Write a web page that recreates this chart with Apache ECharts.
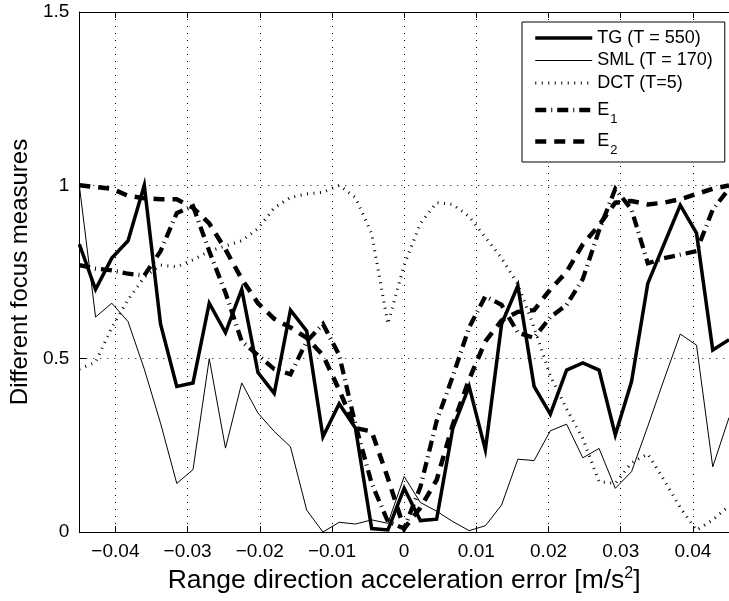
<!DOCTYPE html>
<html><head><meta charset="utf-8">
<script src="https://cdn.jsdelivr.net/npm/echarts@6/dist/echarts.min.js"></script>
<style>html,body{margin:0;padding:0;background:#fff}#c{width:729px;height:601px}</style>
</head><body><div id="c"></div><script>
// sample positions (acceleration error, m/s^2)
const xValues = [-0.045, -0.04275, -0.0405, -0.03825, -0.036, -0.03375, -0.0315, -0.02925, -0.027, -0.02475,
  -0.0225, -0.02025, -0.018, -0.01575, -0.0135, -0.01125, -0.009, -0.00675, -0.0045, -0.00225,
  0, 0.00225, 0.0045, 0.00675, 0.009, 0.01125, 0.0135, 0.01575, 0.018, 0.02025,
  0.0225, 0.02475, 0.027, 0.02925, 0.0315, 0.03375, 0.036, 0.03825, 0.0405, 0.04275, 0.045];
const tgValues = [0.83, 0.70, 0.79, 0.84, 1.00, 0.60, 0.42, 0.43, 0.66, 0.575,
  0.70, 0.46, 0.40, 0.64, 0.58, 0.275, 0.37, 0.30, 0.01, 0.006,
  0.126, 0.033, 0.037, 0.30, 0.42, 0.237, 0.60, 0.71, 0.42, 0.34,
  0.467, 0.488, 0.467, 0.28, 0.434, 0.717, 0.83, 0.943, 0.862, 0.525, 0.555];
const smlValues = [1.00, 0.62, 0.66, 0.607, 0.47, 0.314, 0.14, 0.18, 0.50, 0.242,
  0.43, 0.343, 0.29, 0.246, 0.063, 0.0, 0.028, 0.023, 0.035, 0.025,
  0.16, 0.085, 0.06, 0.03, 0.004, 0.018, 0.078, 0.21, 0.206, 0.292,
  0.311, 0.214, 0.241, 0.126, 0.174, 0.305, 0.44, 0.571, 0.539, 0.188, 0.33];
const dctValues = [0.47, 0.49, 0.59, 0.67, 0.735, 0.77, 0.765, 0.785, 0.81, 0.825,
  0.84, 0.875, 0.935, 0.965, 0.975, 0.98, 1.0, 0.965, 0.86, 0.60,
  0.77, 0.89, 0.95, 0.945, 0.91, 0.85, 0.79, 0.715, 0.59, 0.45,
  0.355, 0.27, 0.145, 0.14, 0.20, 0.225, 0.15, 0.07, 0.005, 0.035, 0.075];
const e1Values = [0.77, 0.76, 0.755, 0.745, 0.74, 0.81, 0.92, 0.94, 0.81, 0.69,
  0.55, 0.51, 0.47, 0.455, 0.55, 0.60, 0.51, 0.31, 0.14, 0.03,
  0.01, 0.13, 0.32, 0.45, 0.59, 0.68, 0.655, 0.575, 0.56, 0.62,
  0.655, 0.73, 0.87, 0.99, 0.93, 0.775, 0.79, 0.80, 0.81, 0.93, 0.99];
const e2Values = [1.0, 0.995, 0.99, 0.97, 0.963, 0.96, 0.96, 0.935, 0.89, 0.815,
  0.73, 0.66, 0.615, 0.59, 0.56, 0.51, 0.41, 0.30, 0.29, 0.155,
  0.01, 0.07, 0.15, 0.31, 0.44, 0.55, 0.61, 0.635, 0.64, 0.70,
  0.75, 0.83, 0.885, 0.95, 0.955, 0.945, 0.95, 0.96, 0.975, 0.99, 1.0];
const xTicks = [-0.04, -0.03, -0.02, -0.01, 0, 0.01, 0.02, 0.03, 0.04];
const seriesNames = ['TG (T = 550)', 'SML (T = 170)', 'DCT (T=5)', 'E1', 'E2'];

const FONT = '"Liberation Sans", Arial, Helvetica, sans-serif';
const pairs = vals => xValues.map((x, i) => [x, vals[i]]);
const fmtX = v => {
  if (Math.abs(v) < 1e-9) return '0';
  return (v < 0 ? '\u2212' : '') + Math.abs(v).toFixed(2);
};
const gridDash = {color: '#000', width: 1, type: [1, 6]};
const blackItem = {color: '#000'};

const chart = echarts.init(document.getElementById('c'), null, {renderer: 'canvas'});
chart.setOption({
  animation: false,
  backgroundColor: '#fff',
  grid: {left: 74, top: 12, right: -5, bottom: 69, containLabel: false},
  xAxis: [{
    type: 'value', min: -0.045, max: 0.045, position: 'bottom',
    name: 'Range direction acceleration error [m/s{sup|2}]',
    nameLocation: 'middle', nameGap: 30,
    nameTextStyle: {fontFamily: FONT, fontSize: 26.5, color: '#000', lineHeight: 30,
      rich: {sup: {fontFamily: FONT, fontSize: 16, lineHeight: 16, verticalAlign: 'top', color: '#000'}}},
    axisLine: {show: true, onZero: false, lineStyle: {color: '#000', width: 1}},
    axisTick: {show: true, inside: true, length: 6, customValues: xTicks, lineStyle: {color: '#000'}},
    axisLabel: {show: true, customValues: xTicks, formatter: fmtX, margin: 10,
      fontFamily: FONT, fontSize: 19, color: '#000'},
    splitLine: {show: true, lineStyle: gridDash}
  }, {
    type: 'value', min: -0.045, max: 0.045, position: 'top',
    axisLine: {show: true, onZero: false, lineStyle: {color: '#000', width: 1}},
    axisTick: {show: true, inside: true, length: 6, customValues: xTicks, lineStyle: {color: '#000'}},
    axisLabel: {show: false}, splitLine: {show: false}
  }],
  yAxis: [{
    type: 'value', min: 0, max: 1.5, interval: 0.5,
    name: 'Different focus measures', nameLocation: 'middle', nameGap: 43,
    nameTextStyle: {fontFamily: FONT, fontSize: 24, color: '#000'},
    axisLine: {show: true, onZero: false, lineStyle: {color: '#000', width: 1}},
    axisTick: {show: true, inside: true, length: 7, lineStyle: {color: '#000'}},
    axisLabel: {show: true, margin: 10, fontFamily: FONT, fontSize: 19, color: '#000',
      formatter: v => String(+v.toFixed(2))},
    splitLine: {show: true, lineStyle: gridDash}
  }],
  legend: {
    show: true, orient: 'vertical', left: 522, top: 22,
    data: seriesNames,
    backgroundColor: '#fff', borderColor: '#000', borderWidth: 1, borderRadius: 0,
    padding: [5, 12, 5, 11], itemWidth: 57, itemHeight: 14, itemGap: 0.5,
    lineStyle: {width: 'inherit'},
    itemStyle: {opacity: 0, borderWidth: 0},
    textStyle: {fontFamily: FONT, fontSize: 18, color: '#000', lineHeight: 22,
      rich: {sub: {fontFamily: FONT, fontSize: 13, lineHeight: 13, color: '#000', padding: [18, 0, 0, 1]}}},
    formatter: n => (n === 'E1' ? 'E{sub|1}' : n === 'E2' ? 'E{sub|2}' : n),
    selectedMode: false
  },
  series: [
    {name: seriesNames[0], type: 'line', data: pairs(tgValues), symbol: 'none', z: 5, itemStyle: blackItem,
      lineStyle: {color: '#000', width: 3.5, cap: 'butt', join: 'miter'}},
    {name: seriesNames[1], type: 'line', data: pairs(smlValues), symbol: 'none', z: 4, itemStyle: blackItem,
      lineStyle: {color: '#000', width: 1, cap: 'butt', join: 'miter'}},
    {name: seriesNames[2], type: 'line', data: pairs(dctValues), symbol: 'none', z: 3, itemStyle: blackItem,
      lineStyle: {color: '#000', width: 3, type: [1, 5.5], cap: 'butt', join: 'miter'}},
    {name: seriesNames[3], type: 'line', data: pairs(e1Values), symbol: 'none', z: 6, itemStyle: blackItem,
      lineStyle: {color: '#000', width: 4.3, type: [11, 5, 1, 5], cap: 'butt', join: 'miter'}},
    {name: seriesNames[4], type: 'line', data: pairs(e2Values), symbol: 'none', z: 7, itemStyle: blackItem,
      lineStyle: {color: '#000', width: 4.5, type: [11, 8], cap: 'butt', join: 'miter'}}
  ]
});
</script></body></html>
